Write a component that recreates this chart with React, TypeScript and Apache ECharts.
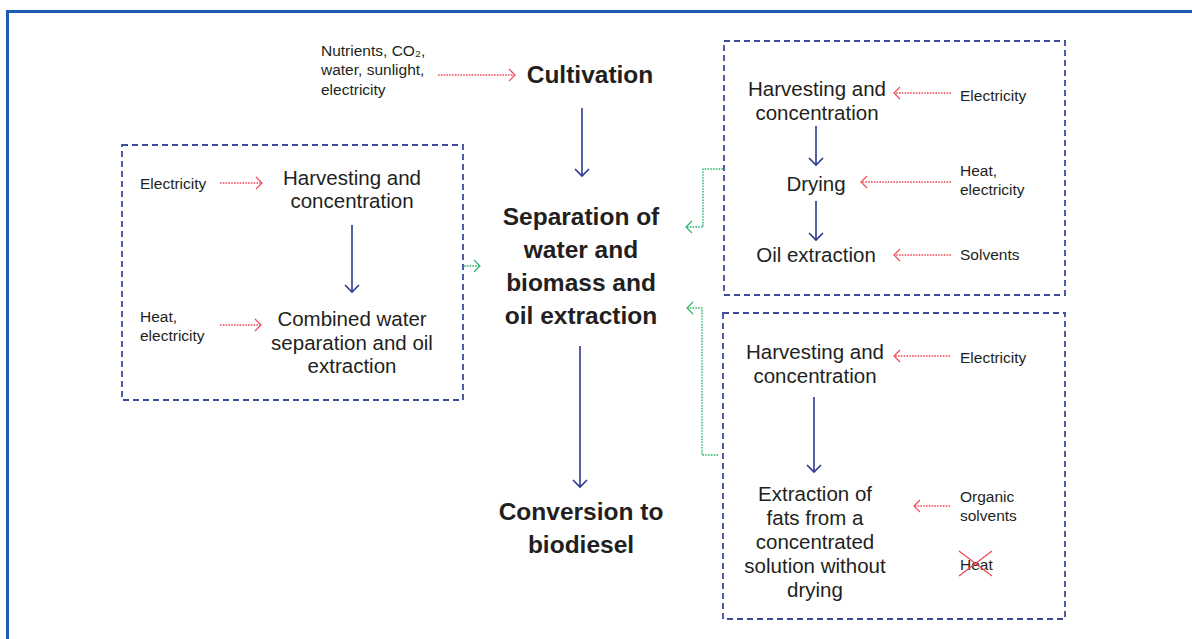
import React, { useEffect, useRef } from "react";
import * as echarts from "echarts";

// ---- Diagram content (texts) ----
const cultivationInputs = ["Nutrients, CO₂,\nwater, sunlight,\nelectricity"];
const mainSteps = [
  "Cultivation",
  "Separation of\nwater and\nbiomass and\noil extraction",
  "Conversion to\nbiodiesel",
];
const leftRouteSteps = ["Harvesting and\nconcentration", "Combined water\nseparation and oil\nextraction"];
const leftRouteInputs = ["Electricity", "Heat,\nelectricity"];
const dryRouteSteps = ["Harvesting and\nconcentration", "Drying", "Oil extraction"];
const dryRouteInputs = ["Electricity", "Heat,\nelectricity", "Solvents"];
const wetRouteSteps = [
  "Harvesting and\nconcentration",
  "Extraction of\nfats from a\nconcentrated\nsolution without\ndrying",
];
const wetRouteInputs = ["Electricity", "Organic\nsolvents"];
const excludedInputs = ["Heat"];

// ---- Layout ----
const FONT = '"Liberation Sans", Arial, Helvetica, sans-serif';
const TEXT = "#231f20";
const BLUE = "#2b3990";
const RED = "#ef4a55";
const GREEN = "#2db46a";
const BOX = "#3c4a9c";
const FRAME = "#1c5fae";

const mainPos = [
  [590, 74],
  [581, 266],
  [581, 528],
];
const leftStepPos = [
  [352, 189],
  [352, 342],
];
const leftInputPos = [
  [140, 183],
  [140, 325.5],
];
const dryStepPos = [
  [817, 100.5],
  [816, 183],
  [816, 254],
];
const dryInputPos = [
  [960, 95],
  [960, 179.5],
  [960, 254],
];
const wetStepPos = [
  [815, 363.5],
  [815, 541],
];
const wetInputPos = [
  [960, 357],
  [960, 505.5],
];
const excludedPos = [[960, 564]];

function head(x: number, y: number, dx: number, dy: number, len: number, half: number, color: string, w: number) {
  const l = Math.hypot(dx, dy);
  const ux = dx / l;
  const uy = dy / l;
  const px = -uy;
  const py = ux;
  return {
    type: "polyline",
    silent: true,
    shape: {
      points: [
        [x - ux * len + px * half, y - uy * len + py * half],
        [x, y],
        [x - ux * len - px * half, y - uy * len - py * half],
      ],
    },
    style: { stroke: color, lineWidth: w, fill: "none" },
  };
}

function arrow(points: number[][], kind: "blue" | "red" | "green") {
  const color = kind === "blue" ? BLUE : kind === "red" ? RED : GREEN;
  const dash = kind === "blue" ? null : [1.6, 1.2];
  const w = kind === "blue" ? 1.6 : 1.4;
  const n = points.length;
  const [x2, y2] = points[n - 1];
  const [x1, y1] = points[n - 2];
  const len = kind === "blue" ? 7 : 6;
  const half = kind === "blue" ? 7 : 6;
  return [
    {
      type: "polyline",
      silent: true,
      shape: { points },
      style: { stroke: color, lineWidth: w, lineDash: dash, fill: "none" },
    },
    head(x2, y2, x2 - x1, y2 - y1, len, half, color, kind === "blue" ? 1.6 : 1.2),
  ];
}

function text(t: string, x: number, y: number, size: number, lh: number, align: string, bold = false) {
  return {
    type: "text",
    silent: true,
    x,
    y,
    style: {
      text: t,
      fill: TEXT,
      fontFamily: FONT,
      fontSize: size,
      fontWeight: bold ? "bold" : "normal",
      align,
      verticalAlign: "middle",
      lineHeight: lh,
    },
  };
}

function box(x1: number, y1: number, x2: number, y2: number) {
  return {
    type: "rect",
    silent: true,
    shape: { x: x1, y: y1, width: x2 - x1, height: y2 - y1 },
    style: { stroke: BOX, lineWidth: 1.8, lineDash: [6, 4], fill: "none" },
  };
}

export default function App() {
  const ref = useRef<HTMLDivElement>(null);
  useEffect(() => {
    document.body.style.margin = "0";
    if (!ref.current) return;
    const chart = echarts.init(ref.current, null, { renderer: "svg" });
    const els: any[] = [];

    // outer frame
    els.push({
      type: "rect",
      silent: true,
      shape: { x: 7.5, y: 11.5, width: 1300, height: 800 },
      style: { stroke: FRAME, lineWidth: 3, fill: "none" },
    });

    // dashed boxes
    els.push(box(122, 145, 463, 400));
    els.push(box(724, 41, 1065, 295));
    els.push(box(723, 313, 1065, 619));

    // main steps
    mainSteps.forEach((t, i) => els.push(text(t, mainPos[i][0], mainPos[i][1], 24.5, 33, "center", true)));
    cultivationInputs.forEach((t) => els.push(text(t, 321, 69.5, 15.5, 19.5, "left")));

    leftRouteSteps.forEach((t, i) => els.push(text(t, leftStepPos[i][0], leftStepPos[i][1], 20.5, 23.5, "center")));
    leftRouteInputs.forEach((t, i) => els.push(text(t, leftInputPos[i][0], leftInputPos[i][1], 15.5, 19, "left")));
    dryRouteSteps.forEach((t, i) => els.push(text(t, dryStepPos[i][0], dryStepPos[i][1], 20.5, 23.5, "center")));
    dryRouteInputs.forEach((t, i) => els.push(text(t, dryInputPos[i][0], dryInputPos[i][1], 15.5, 19, "left")));
    wetRouteSteps.forEach((t, i) => els.push(text(t, wetStepPos[i][0], wetStepPos[i][1], 20.5, 24, "center")));
    wetRouteInputs.forEach((t, i) => els.push(text(t, wetInputPos[i][0], wetInputPos[i][1], 15.5, 19, "left")));
    excludedInputs.forEach((t, i) => {
      const [x, y] = excludedPos[i];
      els.push(text(t, x, y, 15.5, 19, "left"));
      els.push({ type: "line", silent: true, shape: { x1: x - 1, y1: y - 13, x2: x + 32, y2: y + 12 }, style: { stroke: RED, lineWidth: 1.3 } });
      els.push({ type: "line", silent: true, shape: { x1: x - 1, y1: y + 12, x2: x + 32, y2: y - 13 }, style: { stroke: RED, lineWidth: 1.3 } });
    });

    // arrows
    const arrows: any[] = [
      arrow([[438, 75], [515, 75]], "red"),
      arrow([[582, 108], [582, 176]], "blue"),
      arrow([[580, 346], [580, 487]], "blue"),
      // left route
      arrow([[220, 183], [262, 183]], "red"),
      arrow([[220, 325], [261, 325]], "red"),
      arrow([[352, 225], [352, 292]], "blue"),
      arrow([[464, 266], [480, 266]], "green"),
      // dry route
      arrow([[951, 93], [894, 93]], "red"),
      arrow([[951, 182], [861, 182]], "red"),
      arrow([[951, 255], [894, 255]], "red"),
      arrow([[816, 126], [816, 165]], "blue"),
      arrow([[816, 201], [816, 240]], "blue"),
      arrow([[723, 169], [703, 169], [703, 227], [686, 227]], "green"),
      // wet route
      arrow([[950, 356], [894, 356]], "red"),
      arrow([[950, 506], [914, 506]], "red"),
      arrow([[814, 397], [814, 472]], "blue"),
      arrow([[718, 455], [702, 455], [702, 308], [687, 308]], "green"),
    ];
    arrows.forEach((a) => els.push(...a));

    chart.setOption({
      animation: false,
      backgroundColor: "#ffffff",
      graphic: { elements: els },
    });
    return () => chart.dispose();
  }, []);
  return <div ref={ref} style={{ width: 1192, height: 639 }} />;
}
